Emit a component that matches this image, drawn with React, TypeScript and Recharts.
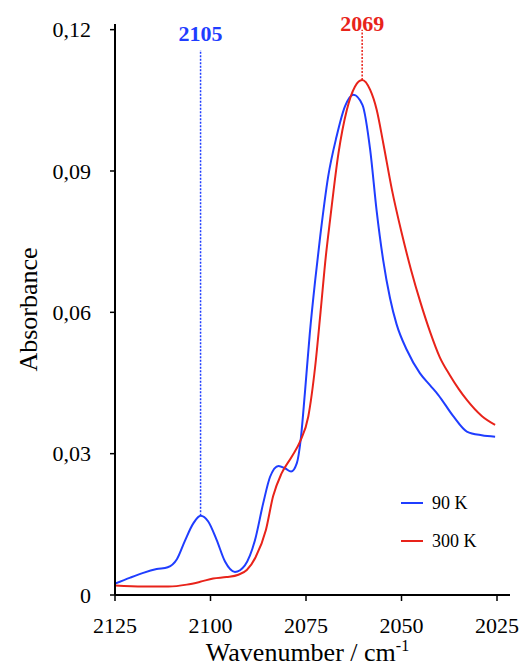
import React from 'react';
import { LineChart, Line, XAxis, YAxis, ReferenceLine, ReferenceDot } from 'recharts';

const wn90 = [2125, 2121, 2117.6, 2114.1, 2111.2, 2108.8, 2106.7, 2104.5, 2102.6, 2100.6, 2098.4, 2096.2, 2093.6, 2091.0, 2088.4, 2086.2, 2084.4, 2082.2, 2080.5, 2078.9, 2077.4, 2076.4, 2075.3, 2074.0, 2072.6, 2071.3, 2069.2, 2067.0, 2064.8, 2062.6, 2060.2, 2058.2, 2056.5, 2054.8, 2053.0, 2051.3, 2048.6, 2045.2, 2042.5, 2040.4, 2036.4, 2032.9, 2029, 2025.5];
const abs90 = [0.0024, 0.0037, 0.0047, 0.0055, 0.0059, 0.0076, 0.0115, 0.0152, 0.0168, 0.0156, 0.0117, 0.0071, 0.0049, 0.0063, 0.0115, 0.0195, 0.0251, 0.0274, 0.0269, 0.0262, 0.0280, 0.0329, 0.0428, 0.0556, 0.0668, 0.0760, 0.0888, 0.0973, 0.1037, 0.1062, 0.1040, 0.0945, 0.0815, 0.0711, 0.0630, 0.0575, 0.0520, 0.0471, 0.0445, 0.0425, 0.0379, 0.0347, 0.0339, 0.0336];

const wn300 = [2125, 2117.6, 2111, 2106.2, 2102.7, 2099.3, 2095.8, 2092.7, 2090.5, 2088.2, 2085.5, 2083.6, 2081.4, 2078.7, 2076.6, 2074.4, 2072.6, 2071.2, 2069.8, 2068.7, 2066.5, 2064.3, 2062.2, 2060.3, 2058.2, 2056.5, 2054.8, 2052.5, 2050.0, 2047.5, 2045.0, 2042.5, 2040.0, 2037.3, 2035.0, 2032.9, 2029, 2025.5];
const abs300 = [0.0020, 0.0018, 0.0018, 0.0022, 0.0028, 0.0035, 0.0038, 0.0043, 0.0053, 0.0080, 0.0138, 0.0210, 0.0258, 0.0294, 0.0325, 0.0379, 0.0485, 0.0600, 0.0720, 0.0796, 0.0938, 0.1030, 0.1079, 0.1093, 0.1072, 0.1030, 0.0960, 0.0860, 0.0770, 0.0690, 0.0620, 0.0558, 0.0505, 0.0466, 0.0437, 0.0414, 0.0380, 0.0361];

const xTicks = [2125, 2100, 2075, 2050, 2025];
const yTicks = [0, 0.03, 0.06, 0.09, 0.12];
const seriesNames = ['90 K', '300 K'];
const peakLabels = ['2105', '2069'];
const peakX = [2102.6, 2060.3];
const peakY = [0.0168, 0.1093];
const guideTop = [0.1157, 0.1200];
const labelY = [0.1193, 0.1214];

const BLUE = '#1f3dff';
const RED = '#e8231a';
const COLORS = [BLUE, RED];
const FONT = '"Liberation Serif", "Times New Roman", serif';

const data90 = wn90.map((x, i) => ({ x, y: abs90[i] }));
const data300 = wn300.map((x, i) => ({ x, y: abs300[i] }));

const fmtY = (v: number) => (v === 0 ? '0' : v.toFixed(2).replace('.', ','));

const XTick = (props: any) => {
  const { x, y, payload } = props;
  return (
    <text x={x} y={y} dy="0.71em" textAnchor="middle" fontSize={22} fontFamily={FONT} fill="#000">
      {payload.value}
    </text>
  );
};

const YTick = (props: any) => {
  const { x, y, payload } = props;
  return (
    <text x={x} y={y} dy="0.355em" textAnchor="end" fontSize={22} fontFamily={FONT} fill="#000">
      {fmtY(payload.value)}
    </text>
  );
};

const XTitle = (props: any) => {
  const vb = props.viewBox || {};
  const cx = vb.x + vb.width / 2 - 5;
  return (
    <text x={cx} y={vb.y + 66} textAnchor="middle" fontSize={26} fontFamily={FONT} fill="#000">
      Wavenumber / cm<tspan dy={-10} fontSize={16}>-1</tspan>
    </text>
  );
};

const YTitle = (props: any) => {
  const vb = props.viewBox || {};
  const cy = vb.y + vb.height / 2;
  const x = 37;
  return (
    <text x={x} y={cy} textAnchor="middle" fontSize={26} fontFamily={FONT} fill="#000" transform={`rotate(-90 ${x} ${cy})`}>
      Absorbance
    </text>
  );
};

export default function App() {
  return (
    <div style={{ position: 'absolute', left: 0, top: 0, width: 522, height: 668, background: '#fff' }}>
      <LineChart width={522} height={668} margin={{ top: 24, right: 12, bottom: 0, left: 55 }}>
        <XAxis
          dataKey="x"
          type="number"
          domain={[2021.6, 2125]}
          reversed
          allowDataOverflow
          ticks={xTicks}
          height={73}
          tickSize={6}
          tickMargin={16}
          axisLine={{ stroke: '#000', strokeWidth: 2 }}
          tickLine={{ stroke: '#000', strokeWidth: 1.5 }}
          tick={<XTick />}
          label={{ content: XTitle }}
        />
        <YAxis
          type="number"
          domain={[0, 0.1212]}
          allowDataOverflow
          ticks={yTicks}
          tickFormatter={fmtY}
          width={60}
          tickSize={5}
          tickMargin={19}
          axisLine={{ stroke: '#000', strokeWidth: 2 }}
          tickLine={{ stroke: '#000', strokeWidth: 1.5 }}
          tick={<YTick />}
          label={{ content: YTitle }}
        />
        <ReferenceLine
          segment={[{ x: peakX[0], y: peakY[0] }, { x: peakX[0], y: guideTop[0] }]}
          stroke={BLUE}
          strokeWidth={1.5}
          strokeDasharray="2 1.5"
          ifOverflow="visible"
        />
        <ReferenceLine
          segment={[{ x: peakX[1], y: peakY[1] }, { x: peakX[1], y: guideTop[1] }]}
          stroke={RED}
          strokeWidth={1.5}
          strokeDasharray="2 1.5"
          ifOverflow="visible"
        />
        <Line data={data90} dataKey="y" name={seriesNames[0]} type="monotone" stroke={BLUE} strokeWidth={2} dot={false} isAnimationActive={false} />
        <Line data={data300} dataKey="y" name={seriesNames[1]} type="monotone" stroke={RED} strokeWidth={2} dot={false} isAnimationActive={false} />
        {peakLabels.map((t, i) => (
          <ReferenceDot
            key={t}
            x={peakX[i]}
            y={labelY[i]}
            r={0}
            fill="none"
            stroke="none"
            ifOverflow="visible"
            label={{ value: t, position: 'center', fill: COLORS[i], fontSize: 22, fontWeight: 'bold', fontFamily: FONT }}
          />
        ))}
      </LineChart>
      <div style={{ position: 'absolute', left: 401, top: 484, fontFamily: FONT, fontSize: 18, color: '#000' }}>
        {seriesNames.map((n, i) => (
          <div key={n} style={{ display: 'flex', alignItems: 'center', height: 38 }}>
            <div style={{ width: 22, height: 2.5, background: COLORS[i], marginRight: 9 }} />
            <span>{n}</span>
          </div>
        ))}
      </div>
    </div>
  );
}
